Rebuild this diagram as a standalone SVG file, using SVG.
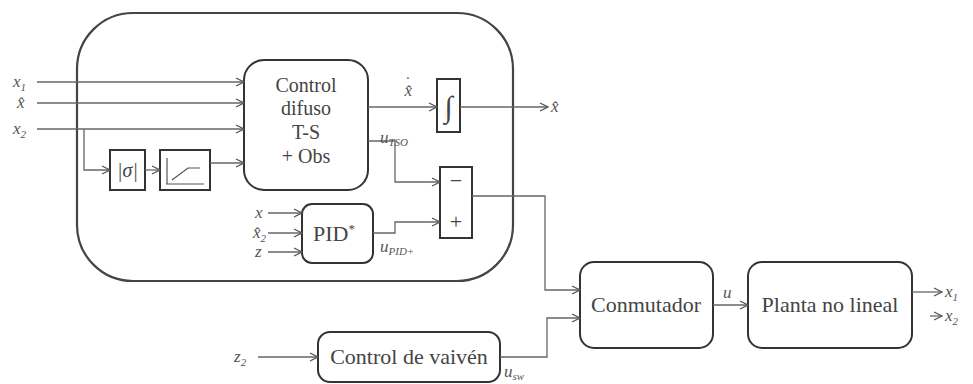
<svg xmlns="http://www.w3.org/2000/svg" width="973" height="384" viewBox="0 0 973 384">
<style>
.box{fill:none;stroke:#333;stroke-width:2}
.bigbox{fill:none;stroke:#444;stroke-width:2.2}
.ln{fill:none;stroke:#666;stroke-width:1.3}
.t{font-family:"Liberation Serif",serif;font-size:22px;fill:#444;text-anchor:middle}
.cd{font-size:20px}
.lb{font-family:"Liberation Serif",serif;font-size:17px;font-style:italic;fill:#555}
.sm{font-size:11px}
</style>
<defs>
<marker id="ar" markerWidth="10" markerHeight="10" refX="9" refY="5" orient="auto" markerUnits="userSpaceOnUse">
<path d="M1,1 L9,5 L1,9" fill="none" stroke="#555" stroke-width="1.3"/>
</marker>
</defs>
<rect id="outer" class="bigbox" x="77" y="13" width="436" height="268" rx="56" ry="56"/>
<g id="control-difuso"><rect class="box" x="244" y="60" width="124" height="130" rx="20"/>
<text class="t cd" x="306" y="92">Control</text><text class="t cd" x="306" y="115">difuso</text><text class="t cd" x="306" y="139">T-S</text><text class="t cd" x="306" y="163">+ Obs</text></g>
<g id="abs-sigma"><rect class="box" x="110" y="150" width="35" height="40"/><text class="t" x="127.5" y="177" style="font-style:italic;font-size:20px">|σ|</text></g>
<g id="saturation"><rect class="box" x="160" y="150" width="50" height="40"/>
<path d="M166,184 L204,184 M167,158 L167,184 M172,180 L188,168 L200,168" fill="none" stroke="#555" stroke-width="1.2"/></g>
<g id="integrator"><rect class="box" x="437" y="79" width="23" height="53"/><text class="t" x="448.5" y="117" style="font-style:italic;font-size:30px">∫</text></g>
<g id="sum"><rect class="box" x="440" y="167" width="32" height="71"/><text class="t" x="456" y="188">−</text><text class="t" x="456" y="229">+</text></g>
<g id="pid"><rect class="box" x="302" y="204" width="71" height="59" rx="10"/><text class="t" x="334" y="241">PID<tspan dy="-8" font-size="13">*</tspan></text></g>
<g id="conmutador"><rect class="box" x="580" y="262" width="133" height="86" rx="14"/><text class="t" x="646" y="312">Conmutador</text></g>
<g id="planta"><rect class="box" x="748" y="262" width="164" height="86" rx="14"/><text class="t" x="830" y="312">Planta no lineal</text></g>
<g id="vaiven"><rect class="box" x="318" y="332" width="182" height="50" rx="12"/><text class="t" x="409" y="364">Control de vaivén</text></g>
<g id="connectors">
<path class="ln" d="M37,82 H244" marker-end="url(#ar)"/>
<path class="ln" d="M37,103 H244" marker-end="url(#ar)"/>
<path class="ln" d="M37,129 H244" marker-end="url(#ar)"/>
<path class="ln" d="M84,129 V170 H110" marker-end="url(#ar)"/>
<path class="ln" d="M145,170 H160" marker-end="url(#ar)"/>
<path class="ln" d="M210,163 H244" marker-end="url(#ar)"/>
<path class="ln" d="M368,107 H437" marker-end="url(#ar)"/>
<path class="ln" d="M460,107 H548" marker-end="url(#ar)"/>
<path class="ln" d="M368,141 H395 V182 H440" marker-end="url(#ar)"/>
<path class="ln" d="M268,213 H302" marker-end="url(#ar)"/>
<path class="ln" d="M268,233 H302" marker-end="url(#ar)"/>
<path class="ln" d="M268,252 H302" marker-end="url(#ar)"/>
<path class="ln" d="M373,233 H395 V222 H440" marker-end="url(#ar)"/>
<path class="ln" d="M472,196 H545 V290 H580" marker-end="url(#ar)"/>
<path class="ln" d="M258,357 H318" marker-end="url(#ar)"/>
<path class="ln" d="M500,357 H547 V318 H580" marker-end="url(#ar)"/>
<path class="ln" d="M713,305 H748" marker-end="url(#ar)"/>
<path class="ln" d="M912,292 H942" marker-end="url(#ar)"/>
<path class="ln" d="M930,316 H942" marker-end="url(#ar)"/>
</g>
<g id="labels">
<text class="lb" x="13" y="87">x<tspan class="sm" dy="4">1</tspan></text>
<text class="lb" x="17" y="108">x̂</text>
<text class="lb" x="13" y="134">x<tspan class="sm" dy="4">2</tspan></text>
<text class="lb" x="404" y="96">x̂<tspan dx="-8" dy="-8">˙</tspan></text>
<text class="lb" x="551" y="112">x̂</text>
<text class="lb" x="380" y="143" font-size="15">u<tspan class="sm" dy="3">TSO</tspan></text>
<text class="lb" x="255" y="218">x</text>
<text class="lb" x="253" y="238">x̂<tspan class="sm" dy="4">2</tspan></text>
<text class="lb" x="255" y="257">z</text>
<text class="lb" x="380" y="252" font-size="15">u<tspan class="sm" dy="3">PID+</tspan></text>
<text class="lb" x="504" y="377" font-size="17">u<tspan class="sm" dy="3">sw</tspan></text>
<text class="lb" x="234" y="362">z<tspan class="sm" dy="4">2</tspan></text>
<text class="lb" x="723" y="298" font-size="14">u</text>
<text class="lb" x="945" y="297">x<tspan class="sm" dy="4">1</tspan></text>
<text class="lb" x="945" y="321">x<tspan class="sm" dy="4">2</tspan></text>
</g>
</svg>
